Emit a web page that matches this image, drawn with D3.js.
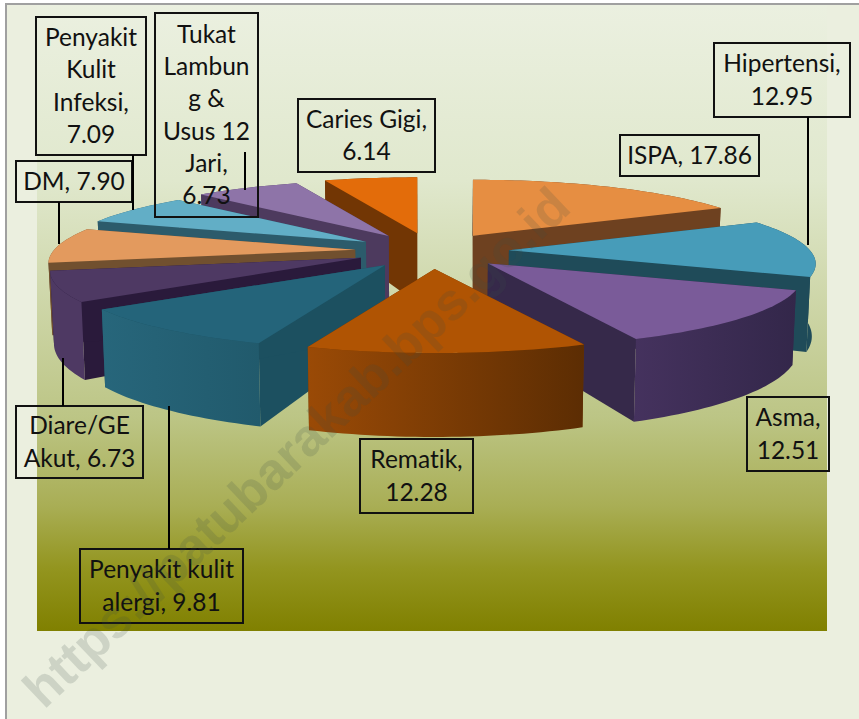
<!DOCTYPE html>
<meta charset="utf-8">
<style>

body {
  margin: 0;
  background: #fff;
}

.labels text {
  font-family: Lato, sans-serif;
  font-size: 24.5px;
  font-variant-ligatures: none;
  fill: #111;
  text-anchor: middle;
}

.labels rect {
  fill: none;
  stroke: #111;
  stroke-width: 2;
}

.labels line {
  stroke: #000;
  stroke-width: 2;
}

.watermark {
  font-family: "Liberation Sans", Arial, sans-serif;
  font-weight: bold;
  font-size: 52px;
  fill: #3c5048;
  fill-opacity: 0.17;
  text-anchor: middle;
}

</style>
<svg width="859" height="719"></svg>
<script src="https://d3js.org/d3.v7.min.js"></script>
<script>

var categories = ["ISPA", "Hipertensi", "Asma", "Rematik", "Penyakit kulit alergi", "Diare/GE Akut", "DM", "Penyakit Kulit Infeksi", "Tukak Lambung & Usus 12 Jari", "Caries Gigi"];
var values = [17.86, 12.95, 12.51, 12.28, 9.81, 6.73, 7.90, 7.09, 6.73, 6.14];

var topColors = ["#e68e42", "#479cb9", "#7a5b99", "#b05403", "#24647a", "#4e3963", "#e39a5e", "#62aec6", "#8e74a8", "#e36c0a"];
var sideColors = ["#6e4120", "#1f4b59", "#36294a", "#6b3300", "#1c5060", "#2a1a3b", "#71502f", "#2c5b6b", "#4d3a5e", "#723604"];
var outerLeft = ["#6e4120", "#1f4b59", "#45325e", "#9a4a06", "#27667b", "#4e3963", "#71502f", "#2c5b6b", "#4d3a5e", "#723604"];
var outerRight = ["#6e4120", "#1f4b59", "#33274a", "#5c2d03", "#215a6c", "#4e3963", "#71502f", "#2c5b6b", "#4d3a5e", "#723604"];

var labelLines = [
  ["ISPA, 17.86"],
  ["Hipertensi,", "12.95"],
  ["Asma,", "12.51"],
  ["Rematik,", "12.28"],
  ["Penyakit kulit", "alergi, 9.81"],
  ["Diare/GE", "Akut, 6.73"],
  ["DM, 7.90"],
  ["Penyakit", "Kulit", "Infeksi,", "7.09"],
  ["Tukat", "Lambun", "g &", "Usus 12", "Jari,", "6.73"],
  ["Caries Gigi,", "6.14"]
];

// label boxes are x0, y0, x1, y1 and leaders x, y0, y1 (null when no leader)
var labelBoxes = [
  [620, 135, 759, 176],
  [714, 43, 850, 117],
  [747, 397, 829, 471],
  [360, 439, 473, 513],
  [80, 549, 243, 623],
  [16, 406, 143, 478],
  [16, 161, 132, 202],
  [36, 17, 146, 155],
  [155, 13, 258, 217],
  [298, 99, 435, 172]
];
var labelLeaders = [
  null,
  [808, 117, 245],
  null,
  null,
  [169, 406, 549],
  [63, 358, 406],
  [59, 202, 244],
  [133, 155, 210],
  [245, 152, 190],
  null
];

var svg = d3.select("svg"),
    width = +svg.attr("width"),
    height = +svg.attr("height");

var cx = 432, cy = 251,
    radiusX = 301, radiusY = 70,
    perspective = 0.2,
    frontBoost = 0.035,
    depth = 70,
    explodeX = 77, explodeY = 18;

var defs = svg.append("defs");

var bgGrad = defs.append("linearGradient")
    .attr("id", "bg")
    .attr("x1", 0).attr("y1", 0).attr("x2", 0).attr("y2", 1);
bgGrad.selectAll("stop")
    .data([[0, "#ebf0e0"], [0.28, "#e0e8cd"], [0.66, "#bcc585"], [0.8, "#a9ae55"], [0.9, "#93951f"], [1, "#808000"]])
  .enter().append("stop")
    .attr("offset", function(d) { return d[0]; })
    .attr("stop-color", function(d) { return d[1]; });

svg.append("rect").attr("x", 6).attr("y", 4).attr("width", width - 6).attr("height", height - 4)
    .attr("fill", "#ebefdf");
svg.append("path").attr("d", "M6,719V4H859")
    .attr("fill", "none").attr("stroke", "#a0a0a0").attr("stroke-width", 2);
svg.append("rect").attr("x", 37).attr("y", 5).attr("width", 790).attr("height", 626)
    .attr("fill", "url(#bg)");

var pie = d3.pie().sort(null).value(function(d) { return d; });
var arcs = pie(values);
var line = d3.line();

function scaleAt(a) {
  return 1 - perspective * Math.cos(a);
}

// slices nearer the viewer come out a bit wider
function outerPoint(d, a) {
  var wide = scaleAt(a) + frontBoost * Math.max(0, -Math.cos(d.mid));
  return [d.ax + radiusX * Math.sin(a) * wide, d.ay - radiusY * Math.cos(a) * scaleAt(a)];
}

// walls lean slightly in toward the middle of the pie
function lower(p, h) {
  return [cx + (p[0] - cx) * 0.99, p[1] + h];
}

function sampleArc(d) {
  var n = Math.ceil((d.endAngle - d.startAngle) * 40);
  return d3.range(n + 1).map(function(i) {
    var a = d.startAngle + (d.endAngle - d.startAngle) * i / n;
    return { a: a, p: outerPoint(d, a) };
  });
}

arcs.forEach(function(d, i) {
  var mid = (d.startAngle + d.endAngle) / 2;
  d.index = i;
  d.mid = mid;
  d.ax = cx + explodeX * Math.sin(mid);
  d.ay = cy - explodeY * Math.cos(mid);
});

arcs.sort(function(a, b) { return d3.ascending(-Math.cos(a.mid), -Math.cos(b.mid)); });

arcs.forEach(function(d) {
  var grad = defs.append("linearGradient").attr("id", "outer" + d.index);
  grad.append("stop").attr("offset", 0).attr("stop-color", outerLeft[d.index]);
  grad.append("stop").attr("offset", 1).attr("stop-color", outerRight[d.index]);
});

var slices = svg.append("g").attr("class", "slices")
    .selectAll("g")
    .data(arcs)
  .enter().append("g");

function radialWall(d, a) {
  var apex = [d.ax, d.ay],
      o = outerPoint(d, a);
  return line([apex, o, lower(o, depth * scaleAt(a)), lower(apex, depth)]) + "Z";
}

slices.append("path")
    .attr("d", function(d) { return radialWall(d, d.startAngle); })
    .attr("fill", function(d) { return sideColors[d.index]; });

slices.append("path")
    .attr("d", function(d) { return radialWall(d, d.endAngle); })
    .attr("fill", function(d) { return sideColors[d.index]; });

slices.append("path")
    .attr("d", function(d) {
      var s = sampleArc(d),
          upper = s.map(function(e) { return e.p; }),
          under = s.map(function(e) { return lower(e.p, depth * scaleAt(e.a)); }).reverse();
      return line(upper.concat(under)) + "Z";
    })
    .attr("fill", function(d) { return "url(#outer" + d.index + ")"; });

slices.append("path")
    .attr("d", function(d) {
      var s = sampleArc(d).map(function(e) { return e.p; });
      return line([[d.ax, d.ay]].concat(s)) + "Z";
    })
    .attr("fill", function(d) { return topColors[d.index]; });

var label = svg.append("g")
    .attr("class", "labels")
    .selectAll("g")
    .data(categories)
  .enter().append("g");

label.each(function(d, i) {
  var g = d3.select(this),
      b = labelBoxes[i],
      rows = labelLines[i],
      lead = labelLeaders[i],
      rowHeight = 32.3,
      first = (b[1] + b[3]) / 2 - rowHeight * (rows.length - 1) / 2 + 8.5;
  g.append("rect")
      .attr("x", b[0]).attr("y", b[1])
      .attr("width", b[2] - b[0]).attr("height", b[3] - b[1]);
  if (lead) {
    g.append("line")
        .attr("x1", lead[0]).attr("x2", lead[0])
        .attr("y1", lead[1]).attr("y2", lead[2]);
  }
  g.selectAll("text")
      .data(rows)
    .enter().append("text")
      .attr("x", (b[0] + b[2]) / 2)
      .attr("y", function(t, j) { return first + j * rowHeight; })
      .text(function(t) { return t; });
});

svg.append("text")
    .attr("class", "watermark")
    .attr("transform", "translate(296,447) rotate(-43.4)")
    .attr("dy", "0.35em")
    .text("https://patubarakab.bps.go.id");

</script>
